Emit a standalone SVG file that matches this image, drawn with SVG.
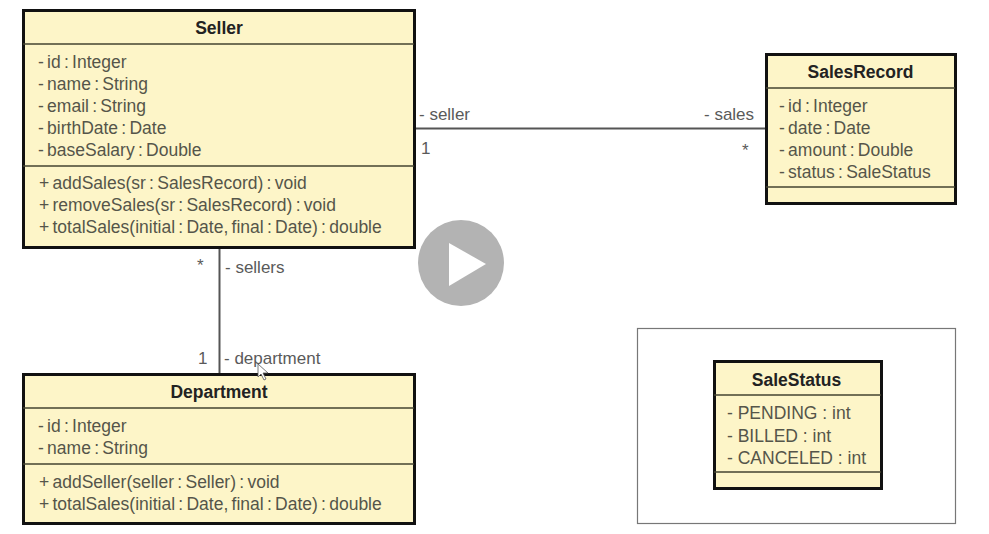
<svg xmlns="http://www.w3.org/2000/svg" width="989" height="534" viewBox="0 0 989 534">
<style>
text{font-family:"Liberation Sans",Arial,sans-serif;font-size:17.500px;word-spacing:-1.600px;fill:#55554a}
.t{font-weight:bold;fill:#222;text-anchor:middle;word-spacing:0}
.e{word-spacing:0}
.b{fill:#fdf5c8;stroke:#111;stroke-width:3}
.d{stroke:#444430;stroke-width:1.500;fill:none}
.c{stroke:#555;stroke-width:2;fill:none}
.l{fill:#5a5a5a;font-size:17px;word-spacing:0}
</style>
<rect width="989" height="534" fill="#fff"/>
<g id="connectors">
<path class="c" d="M415 128.500H767"/>
<path class="c" d="M219.500 248V373"/>
</g>
<g id="connector-labels">
<text class="l" x="419" y="120">- seller</text>
<text class="l" x="421" y="154">1</text>
<text class="l" x="704" y="120">- sales</text>
<text class="l" x="742" y="156">*</text>
<text class="l" x="197" y="271">*</text>
<text class="l" x="225" y="273">- sellers</text>
<text class="l" x="198" y="364">1</text>
<text class="l" x="224" y="364">- department</text>
</g>
<g id="Seller">
<rect class="b" x="23.500" y="10.500" width="391" height="237"/>
<path class="d" d="M23 44H414M23 166H414"/>
<text class="t" x="219" y="34">Seller</text>
<text x="38" y="68">- id : Integer</text>
<text x="38" y="90">- name : String</text>
<text x="38" y="112">- email : String</text>
<text x="38" y="134">- birthDate : Date</text>
<text x="38" y="156">- baseSalary : Double</text>
<text x="39" y="189">+ addSales(sr : SalesRecord) : void</text>
<text x="39" y="211">+ removeSales(sr : SalesRecord) : void</text>
<text x="39" y="233">+ totalSales(initial : Date, final : Date) : double</text>
</g>
<g id="SalesRecord">
<rect class="b" x="766.500" y="54.500" width="189" height="149"/>
<path class="d" d="M766 88H955M766 187H955"/>
<text class="t" x="860.500" y="78">SalesRecord</text>
<text x="779" y="112">- id : Integer</text>
<text x="779" y="134">- date : Date</text>
<text x="779" y="156">- amount : Double</text>
<text x="779" y="178">- status : SaleStatus</text>
</g>
<g id="Department">
<rect class="b" x="23.500" y="374.500" width="391" height="149"/>
<path class="d" d="M23 408H414M23 464H414"/>
<text class="t" x="219" y="398">Department</text>
<text x="38" y="432">- id : Integer</text>
<text x="38" y="454">- name : String</text>
<text x="39" y="488">+ addSeller(seller : Seller) : void</text>
<text x="39" y="510">+ totalSales(initial : Date, final : Date) : double</text>
</g>
<g id="SaleStatusFrame">
<rect x="637.500" y="328.500" width="318" height="195" fill="#fff" stroke="#777" stroke-width="1.200"/>
</g>
<g id="SaleStatus">
<rect class="b" x="714.500" y="361.500" width="167" height="127"/>
<path class="d" d="M714 395H881M714 472H881"/>
<text class="t" x="796.500" y="386">SaleStatus</text>
<text class="e" x="727" y="419">- PENDING : int</text>
<text class="e" x="727" y="442">- BILLED : int</text>
<text class="e" x="727" y="464">- CANCELED : int</text>
</g>
<g id="PlayButton">
<circle cx="461" cy="263" r="43" fill="#b3b3b3"/>
<path d="M449 243L486 264L449 286Z" fill="#fff"/>
</g>
<g id="Cursor">
<path d="M258 364V377L261 374L264 380L266 379L263 373L268 373Z" fill="#fff" stroke="#555" stroke-width="0.800"/>
</g>
</svg>
